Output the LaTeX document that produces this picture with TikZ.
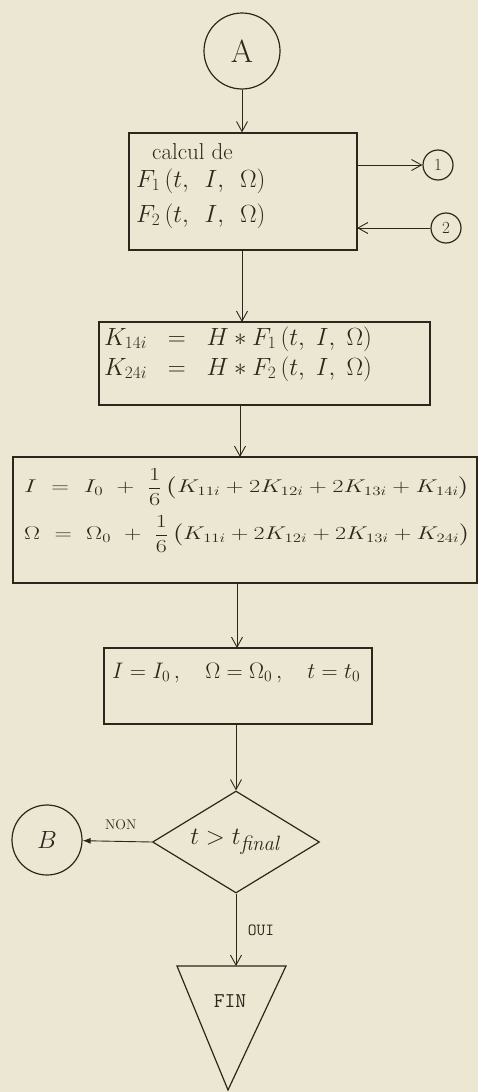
\documentclass[tikz,border=0pt]{standalone}
\usepackage{amsmath}
\usepackage{graphicx}
\usetikzlibrary{arrows.meta,shapes.geometric}
\definecolor{paper}{RGB}{236,231,210}
\definecolor{ink}{RGB}{45,38,28}
\begin{document}
\begin{tikzpicture}[x=1pt,y=-1pt,
  ink/.style={draw=ink,line width=1.2pt},
  box/.style={ink,rectangle,inner sep=0pt},
  conn/.style={ink,circle,inner sep=0pt},
  txt/.style={text=ink,inner sep=0pt,anchor=west},
  flow/.style={draw=ink,line width=0.9pt,-{Straight Barb[length=10pt,width=11pt,line width=0.9pt]}},
  every node/.style={text=ink}]
\fill[paper] (0,0) rectangle (478,1092);
\useasboundingbox (0,0) rectangle (478,1092);

% connector A
\node[conn,minimum size=76pt,font=\fontsize{32}{34}\selectfont] (A) at (242,51) {A};

% box 1
\node[box,minimum width=228pt,minimum height=117pt] (b1) at (243,191.5) {};
\node[txt,font=\fontsize{23}{26}\selectfont] (b1t1) at (152,152) {calcul de};
\node[txt,font=\fontsize{25}{28}\selectfont] (b1t2) at (136,181) {$F_1\,(t,\ \,I,\ \,\Omega)$};
\node[txt,font=\fontsize{25}{28}\selectfont] (b1t3) at (136,216) {$F_2\,(t,\ \,I,\ \,\Omega)$};
\coordinate (b1o) at (357,165);
\coordinate (b1i) at (357,228);
\node[conn,minimum size=30pt,font=\fontsize{17}{19}\selectfont] (c1) at (438,165) {1};
\node[conn,minimum size=30pt,font=\fontsize{17}{19}\selectfont] (c2) at (446,228) {2};

% box 2
\node[box,minimum width=331pt,minimum height=83pt] (b2) at (264.5,363.5) {};
\node[txt,font=\fontsize{23}{26}\selectfont] (b2t1) at (104,339) {$K_{14i}\ \ =\ \ H * F_1\,(t,\ I,\ \Omega)$};
\node[txt,font=\fontsize{23}{26}\selectfont] (b2t2) at (104,369) {$K_{24i}\ \ =\ \ H * F_2\,(t,\ I,\ \Omega)$};

% box 3
\node[box,minimum width=464pt,minimum height=126pt] (b3) at (245,520) {};
\node[txt,font=\fontsize{22}{25}\selectfont] (b3t1) at (24,487) {\resizebox*{446pt}{37pt}{$I\ =\ I_0\ +\ \dfrac{1}{6}\,\bigl(K_{11i} + 2K_{12i} + 2K_{13i} + K_{14i}\bigr)$}};
\node[txt,font=\fontsize{22}{25}\selectfont] (b3t2) at (24,534) {\resizebox*{446pt}{37pt}{$\Omega\ =\ \Omega_0\ +\ \dfrac{1}{6}\,\bigl(K_{11i} + 2K_{12i} + 2K_{13i} + K_{24i}\bigr)$}};

% box 4
\node[box,minimum width=268pt,minimum height=76pt] (b4) at (238,686) {};
\node[txt,font=\fontsize{22}{25}\selectfont] (b4t) at (112,673) {\resizebox{248pt}{!}{$I = I_0\,,\ \ \ \Omega = \Omega_0\,,\ \ \ t = t_0$}};

% decision
\node[ink,diamond,aspect=1.64,inner sep=0pt,minimum width=167pt,minimum height=102pt,font=\fontsize{29}{32}\selectfont] (d) at (236,842) {$t > t_{\mathit{final}}$};

% connector B
\node[conn,minimum size=70pt,font=\fontsize{24}{26}\selectfont] (B) at (47,840) {$B$};

% FIN triangle
\coordinate (f1) at (177,966);
\coordinate (f2) at (286,966);
\coordinate (f3) at (228,1090);
\coordinate (fin) at (236,966);
\draw[ink] (f1) -- (f2) -- (f3) -- cycle;
\node[font=\ttfamily\fontsize{21}{24}\selectfont] (fint) at (230,1001) {FIN};

% flow lines
\draw[flow] (A) -- (A|-b1.north);
\draw[flow] (b1.south -| 242,0) -- (242,322);
\draw[flow] (b2.south -| 240,0) -- (240,457);
\draw[flow] (b3.south -| 237,0) -- (237,648);
\draw[flow] (d.north|-b4.south) -- (d.north);
\draw[flow] (b1o) -- (c1);
\draw[flow] (c2) -- (b1i);
\draw[draw=ink,line width=0.9pt,-{Latex[length=8pt,width=6pt]}] (d.west) -- (B) node[pos=0.45,above=8pt,font=\fontsize{14}{16}\selectfont] (non) {NON};
\draw[flow] (d.south) -- (fin) node[pos=0.5,right=8pt,font=\ttfamily\fontsize{17}{19}\selectfont] (oui) {OUI};
\end{tikzpicture}
\end{document}
